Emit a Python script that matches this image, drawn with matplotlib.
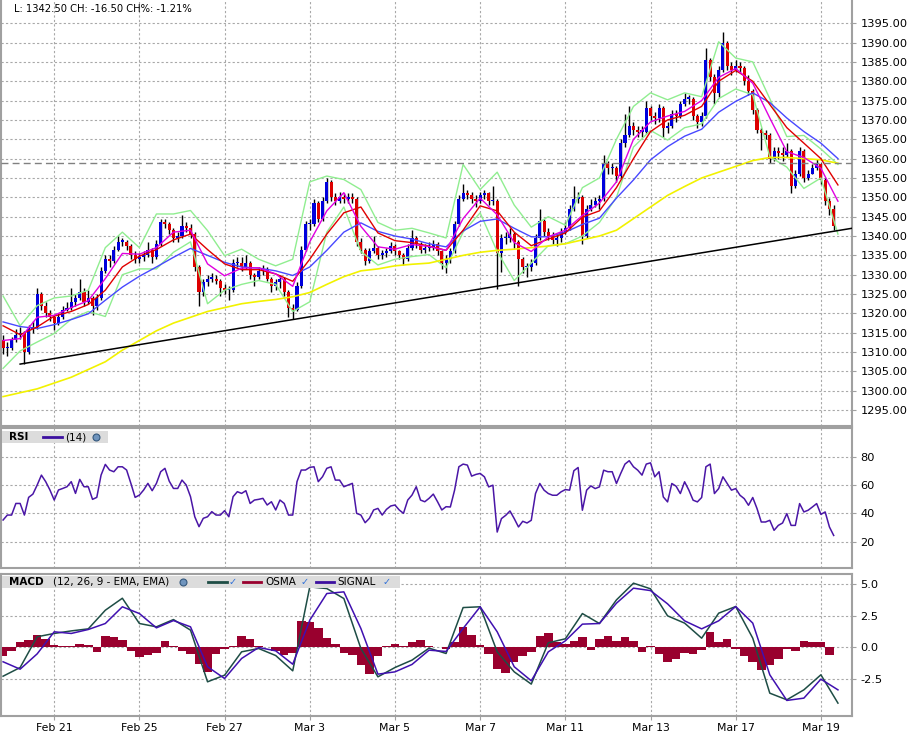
import numpy as np
import matplotlib
matplotlib.use("Agg")
import matplotlib.pyplot as plt
from matplotlib.patches import Rectangle
from matplotlib.lines import Line2D

plt.rcParams["axes.unicode_minus"] = False
plt.rcParams["font.family"] = "DejaVu Sans"

W, H = 912, 741

# ----- price bars (about 10 bars per trading day) -----
first_open = 1313.0
closes = [
    1311, 1311, 1313, 1314.5, 1315, 1310, 1316, 1316.5, 1325, 1322,
    1320, 1319, 1317.5, 1319, 1321, 1321.5, 1323, 1324, 1325.5, 1323,
    1324, 1322, 1324, 1331, 1334, 1333.5, 1336.5, 1338.5, 1338.5, 1337.5,
    1335, 1334, 1334.5, 1335, 1336.5, 1334.5, 1338, 1343.5, 1343, 1341.5,
    1339.5, 1340, 1342.5, 1342, 1340.5, 1332, 1325.5, 1328, 1329, 1329,
    1328.5, 1326.5, 1326, 1326, 1333, 1333, 1332, 1333, 1330, 1329.5,
    1331, 1331.5, 1329, 1327, 1328, 1329, 1325.5, 1321.5, 1321, 1327,
    1336.5, 1343, 1343, 1348.5, 1344.5, 1349, 1354, 1350, 1349, 1350,
    1349.5, 1350, 1349.5, 1338.5, 1336.5, 1333.5, 1336, 1337, 1335, 1335.5,
    1336, 1337.5, 1336, 1335, 1334, 1337, 1339.5, 1338, 1336.5, 1337,
    1337, 1338, 1336, 1333, 1334, 1336, 1343, 1349.5, 1351, 1350.5,
    1349.5, 1349, 1350.5, 1351, 1349, 1349, 1335.5, 1339.5, 1339.5, 1340.5,
    1338.5, 1334, 1332, 1332, 1333, 1339.5, 1344, 1341, 1340, 1339,
    1339.5, 1341, 1342, 1347, 1349.5, 1350, 1340, 1347, 1348, 1349,
    1349.5, 1359, 1357.5, 1357.5, 1355.5, 1364, 1366, 1368.5, 1367.5, 1367,
    1367, 1373, 1371, 1370.5, 1373, 1368, 1368.5, 1371.5, 1371, 1374,
    1375.5, 1375.5, 1371, 1369.5, 1371, 1385.5, 1381, 1377, 1383, 1390,
    1384, 1383, 1384, 1383.5, 1380, 1377.5, 1372.5, 1367.5, 1366.5, 1366,
    1360, 1362, 1361.5, 1361, 1362, 1353, 1356, 1362, 1355, 1356,
    1357.5, 1358.5, 1354.5, 1349, 1347, 1342.5,
]
highs = [
    1314.5, 1312.5, 1314, 1316, 1316.5, 1315.5, 1317, 1318, 1326.5, 1325.5,
    1323, 1321, 1319.5, 1320, 1322, 1323, 1326.5, 1325, 1329, 1326.5,
    1326, 1324.5, 1325, 1332, 1335, 1335, 1337.5, 1340, 1339.5, 1339,
    1338, 1336, 1335.5, 1336, 1338.5, 1337, 1339, 1344.5, 1344.5, 1343.5,
    1342, 1341, 1345.4, 1343.5, 1343, 1341, 1332.5, 1329, 1330, 1330.5,
    1330, 1329, 1327.5, 1327, 1334, 1334.5, 1334.5, 1335, 1333.5, 1330.5,
    1332, 1332.5, 1332, 1329.5, 1329, 1330, 1329.5, 1326, 1322.5, 1328,
    1337.5, 1344, 1344.5, 1349.5, 1349, 1350, 1355, 1354.5, 1351, 1351.5,
    1351, 1351, 1351, 1350, 1339.5, 1337, 1337, 1340, 1337.5, 1336.5,
    1337, 1338.5, 1338, 1336.5, 1335.5, 1338, 1341.5, 1340, 1338.5, 1338,
    1338.5, 1339, 1338.5, 1336.5, 1335, 1337, 1344, 1350.5, 1353.5, 1352,
    1351.5, 1350.5, 1351.5, 1352, 1351.5, 1353, 1349.5, 1340.5, 1341, 1342,
    1341, 1339, 1334.5, 1333, 1334, 1340.5, 1347, 1344.5, 1342, 1341,
    1340.5, 1342, 1343.5, 1348, 1353, 1351.5, 1350.5, 1348, 1349.5, 1350,
    1350.5, 1361, 1359.5, 1359, 1358, 1365, 1371.6, 1373.5, 1369.5, 1368.5,
    1368.5, 1375, 1373.5, 1372, 1374, 1373.5, 1369.5, 1372.5, 1372.5, 1375,
    1377, 1376.5, 1376, 1371.5, 1372, 1388.5, 1386, 1382, 1384, 1392.8,
    1390.5, 1385, 1385.5, 1385, 1384, 1381.5, 1378, 1373, 1368, 1367.5,
    1366.5, 1363, 1363, 1363, 1364, 1362.5, 1357, 1363, 1362.5, 1357,
    1358.5, 1360, 1359, 1355, 1349.7, 1348,
]
lows = [
    1309.5, 1309, 1310.5, 1312.5, 1313.5, 1307, 1309.5, 1315, 1316, 1321,
    1319, 1318, 1315.7, 1317, 1318.5, 1320.5, 1321, 1322, 1323.5, 1322,
    1322.5, 1319.5, 1321, 1323.5, 1330.5, 1332, 1333, 1336, 1337.5, 1336.5,
    1334, 1333, 1333, 1333.5, 1334.5, 1333, 1334, 1337.5, 1342, 1340.5,
    1338.5, 1338.5, 1339.5, 1341, 1339.5, 1331, 1322, 1324.5, 1327, 1328,
    1327.5, 1324.5, 1325, 1323.5, 1325.5, 1332, 1331, 1331.5, 1329, 1327,
    1329, 1330, 1328.5, 1325.5, 1326, 1326.5, 1324.5, 1319, 1318.5, 1320.5,
    1326.5, 1336, 1341.5, 1342.5, 1343.5, 1344, 1348.5, 1349, 1348, 1348.5,
    1348.5, 1348.5, 1348.5, 1337.5, 1335.5, 1332.5, 1333, 1335.5, 1334, 1334,
    1334.5, 1335.5, 1335, 1334, 1332.5, 1333.5, 1336.5, 1337, 1335.5, 1335.5,
    1336, 1336.5, 1335, 1331.5, 1330.5, 1333, 1335.5, 1342.5, 1349, 1349.5,
    1348.5, 1347.5, 1348.5, 1349.5, 1348, 1348, 1326.4, 1330.7, 1338, 1338.5,
    1337, 1327.2, 1330.5, 1329.4, 1331, 1332.5, 1339, 1340, 1339, 1338,
    1337.5, 1338.5, 1340.5, 1341.5, 1346.5, 1348.5, 1338, 1339.5, 1346.5, 1347.5,
    1347, 1349, 1356, 1356, 1354, 1355, 1363, 1365.5, 1366, 1365.5,
    1365.5, 1366.5, 1370, 1369, 1369.5, 1365.7, 1366.5, 1368, 1369.5, 1370.5,
    1373.5, 1374, 1370, 1368, 1368.5, 1370.5, 1380, 1374, 1376, 1382.5,
    1383, 1381.5, 1382.5, 1382.5, 1379, 1376.5, 1371.5, 1366.5, 1362.2, 1365,
    1359, 1359.5, 1360, 1359.5, 1360.5, 1351, 1352.5, 1355.5, 1354, 1354.5,
    1356, 1357, 1353.5, 1348, 1345.5, 1341.6,
]

# ----- overlay lines, read every 4 bars -----
line_bars = list(range(0, 197, 4))
yellow_ma = [
    1298.5, 1299.5, 1300.5, 1302, 1303.5, 1305.5, 1307.5, 1310.5, 1313, 1315.5,
    1317.5, 1319, 1320.5, 1321.5, 1322.5, 1323.1, 1323.6, 1324.3, 1325.4, 1327.5,
    1329.5, 1331, 1331.5, 1332.3, 1332.7, 1333, 1334, 1335, 1335.8, 1336.3,
    1336.6, 1337, 1337.4, 1338, 1339, 1340, 1341.5, 1344.5, 1347.5, 1350.5,
    1352.8, 1355, 1356.5, 1358, 1359.5, 1360.3, 1360.3, 1360, 1359.7, 1358.8,
]
blue_ma = [
    1317.8, 1316.6, 1316.1, 1317.1, 1318.4, 1319.9, 1323.4, 1326.8, 1329.6, 1332,
    1334.5, 1336.8, 1335, 1333.2, 1332, 1331.7, 1331, 1329.8, 1332, 1336.3,
    1341, 1343.4, 1341.2, 1340, 1339.2, 1338, 1337.2, 1341.3, 1343.8, 1344.4,
    1342, 1339.8, 1339.8, 1341, 1343, 1344.6, 1349.8, 1354.5, 1359.7, 1363.1,
    1365.8, 1367.6, 1372, 1374.8, 1377, 1374.5, 1370.5, 1367, 1364, 1360,
]
red_ma = [
    1316.8, 1314.5, 1316.5, 1319.3, 1320.5, 1322.3, 1326, 1332, 1334.8, 1336.5,
    1339, 1340.5, 1336.5, 1332.8, 1331.3, 1331.3, 1330.2, 1328.3, 1334, 1340.5,
    1346, 1347.5, 1340.8, 1338.8, 1338.3, 1337.4, 1336.3, 1341.5, 1347.8, 1346.5,
    1341, 1337.5, 1339.2, 1340.8, 1344.9, 1346.5, 1352.5, 1360, 1367, 1370,
    1371.2, 1373.5, 1380, 1382.8, 1380, 1374, 1368, 1364, 1360, 1353.2,
]
magenta_ma = [
    1313, 1313.5, 1319, 1319.5, 1321.5, 1323.3, 1329, 1335.5, 1335.3, 1337,
    1341, 1341.5, 1332.8, 1329.7, 1331.7, 1331.8, 1330.2, 1327, 1338.5, 1346.5,
    1351.2, 1342.5, 1337.2, 1336.6, 1337.8, 1337.3, 1336.3, 1344.5, 1349.8, 1345.5,
    1338.3, 1336, 1339.8, 1341.5, 1345.3, 1348.5, 1354, 1365, 1369.5, 1371,
    1372.2, 1375, 1381, 1383.3, 1379.5, 1370.5, 1361.8, 1360.3, 1357.5, 1349,
]
bb_upper = [
    1324.5, 1316.8, 1322, 1324, 1324.5, 1326, 1337, 1341, 1337, 1345.7,
    1345.7, 1346.6, 1341.4, 1334.9, 1336.6, 1334, 1332.3, 1334, 1354, 1355.5,
    1354.6, 1352, 1343.5, 1341.5, 1342, 1340.8, 1339.5, 1358.5, 1352, 1356.5,
    1348, 1342.3, 1345, 1342.8, 1352.5, 1355, 1365, 1373.5, 1377, 1375.2,
    1377, 1376, 1390.2, 1386, 1385, 1375.5, 1365.7, 1366, 1362.5, 1358.5,
]
bb_lower = [
    1305.8, 1310.3, 1312.6, 1314.8, 1318.5, 1320.5, 1319.2, 1330, 1331.5, 1331.5,
    1335.8, 1338.5, 1322.5, 1326, 1327.5, 1328.5, 1327.5, 1320.5, 1323, 1341,
    1347.5, 1336, 1332.5, 1334, 1334.7, 1335.2, 1331.8, 1341, 1346, 1336,
    1328.5, 1333, 1337.5, 1338, 1340, 1343.5, 1350, 1363, 1367.3, 1364.8,
    1368, 1369, 1375.5, 1378, 1376.5, 1360.5, 1357.8, 1352.3, 1355, 1340.5,
]

prev_close = 1359.0
trend_bars = [4.0, 199.3]
trend_prices = [1306.9, 1342.0]

# ----- RSI (14), one value per bar -----
rsi = [
    35.3, 38.8, 38.8, 47, 47, 38.8, 51.3, 53.6, 60, 67,
    62.4, 56.5, 49.4, 56.5, 57.6, 58.8, 62.4, 54.1, 64, 58.8,
    58.8, 49.9, 51.3, 67, 74.6, 70.6, 69.4, 72.9, 72.9, 70.6,
    61.2, 51.3, 52.9, 56.5, 61.2, 56, 61.2, 69.4, 71.8, 62.8,
    57.6, 57.6, 63.5, 60, 51.8, 37.6, 30.6, 36.5, 37.6, 41.2,
    38.8, 38.8, 41.9, 37.6, 51.8, 55.3, 54.1, 56, 47, 49.4,
    49.9, 50.6, 45.9, 48.2, 42.4, 49.4, 47, 38.8, 38.8, 62.4,
    70.6, 70.6, 72.5, 72.9, 62.4, 65.9, 71.8, 72.9, 63.5, 63.5,
    58.8, 60, 61.2, 40, 38.8, 33.4, 36.5, 42.4, 43.5, 38.8,
    42.8, 45.2, 45.9, 42.4, 40, 49.4, 52.9, 58.8, 49.4, 48.2,
    50.6, 53.6, 48.2, 42.4, 44.7, 44.5, 56.4, 72.9, 74.8, 74.1,
    66.3, 67.5, 68.2, 65.8, 58.7, 59.9, 26.8, 36.3, 38.6, 41.7,
    36.3, 30.4, 34.4, 33.2, 35.1, 54, 61.1, 56.4, 54, 52.8,
    52.8, 55.2, 56.8, 56.4, 70.1, 72.4, 42.2, 56.4, 59.4, 57.5,
    58.7, 70.5, 69.4, 69.4, 61.1, 68.2, 74.8, 77.2, 72.9, 70.5,
    67, 74.8, 75.7, 65.8, 69.4, 51.6, 48.1, 61.1, 59.2, 54,
    62.3, 56.4, 49.3, 48.1, 51.2, 72.9, 74.8, 54, 57.5, 65.8,
    61.1, 56.4, 57.5, 52.8, 50.4, 45.7, 51.2, 43.4, 33.9, 33.9,
    35.1, 28, 31.5, 33.2, 39.8, 31.5, 31.5, 46.9, 41, 42.2,
    44.5, 46.9, 39.3, 41, 30.4, 24.4,
]

# ----- MACD (12, 26, 9), read every 4 bars -----
macd = [
    -2.25, -1.57, 0.84, 1.1, 1.3, 1.46, 2.92, 3.86, 1.88, 1.62,
    2.19, 1.36, -2.69, -2.17, -0.34, -0.08, -0.63, -1.83, 4.75, 4.62,
    3.84, -0.08, -2.3, -1.57, -0.99, -0.05, -0.47, 3.13, 3.19, -0.34,
    -1.91, -2.87, 0.37, 0.68, 2.66, 1.88, 3.73, 5.04, 4.6, 2.48,
    1.91, 0.73, 2.69, 3.21, 0.73, -3.58, -4.1, -3.32, -2.14, -4.36,
]
signal = [
    -1.12, -1.7, -0.5, 1.23, 1.1, 1.41, 1.88, 3.19, 2.66, 1.54,
    2.11, 1.62, -1.51, -2.43, -0.86, 0, -0.26, -1.31, 2.14, 4.23,
    4.36, 1.49, -2.09, -1.91, -1.33, -0.21, -0.31, 1.49, 3.19, 1.23,
    -1.51, -2.61, -0.34, 0.52, 1.83, 1.88, 3.47, 4.65, 4.46, 3.42,
    2.09, 1.46, 2.09, 3.21, 1.91, -2.14, -4.15, -3.97, -2.48, -3.32,
]
osma_bars = list(range(0, 196, 2))
osma = [
    -0.7, -0.3, 0.4, 0.55, 1.0, 0.7, 0.2, 0.1, 0.12, 0.25,
    0.2, -0.35, 0.9, 0.8, 0.6, -0.25, -0.75, -0.6, -0.45, 0.5,
    0.1, -0.25, -0.5, -1.3, -1.9, -0.5, -0.1, 0.15, 0.9, 0.65,
    0.12, 0.03, -0.25, -0.6, -0.45, 2.1, 2.0, 1.5, 0.75, 0.3,
    -0.45, -0.55, -1.4, -2.1, -0.65, 0.1, 0.25, 0.1, 0.4, 0.6,
    0.15, 0.05, -0.1, 0.4, 1.6, 1.0, 0.2, -0.5, -1.7, -2.0,
    -1.1, -0.65, -0.35, 0.9, 1.15, 0.4, 0.25, 0.5, 0.8, -0.2,
    0.7, 0.9, 0.5, 0.8, 0.5, -0.35, 0.1, -0.5, -1.15, -0.9,
    -0.4, -0.5, -0.2, 1.2, 0.4, 0.65, -0.15, -0.7, -1.1, -1.8,
    -1.4, -0.9, -0.1, -0.3, 0.5, 0.4, 0.4, -0.6,
]

day_ticks = [12, 32, 52, 72, 92, 112, 132, 152, 172, 192]
day_labels = ["Feb 21", "Feb 25", "Feb 27", "Mar 3", "Mar 5",
              "Mar 7", "Mar 11", "Mar 13", "Mar 17", "Mar 19"]

# --------------------------
# FIGURE / PANELS
# --------------------------
fig = plt.figure(figsize=(W / 100, H / 100), dpi=100)
fig.patch.set_facecolor("white")

def panel(top, bottom):
    return fig.add_axes([1 / W, 1 - bottom / H, 851 / W, (bottom - top) / H])

ax_p = panel(0, 426)
ax_r = panel(428, 568)
ax_m = panel(574, 716)

grid_kw = dict(color="#a8a8a8", lw=0.8, linestyle=(0, (2, 2)))
for ax in (ax_p, ax_r, ax_m):
    ax.set_xlim(-0.49, 199.3)
    ax.set_xticks(day_ticks)
    ax.grid(True, **grid_kw)
    ax.set_axisbelow(True)
    ax.yaxis.tick_right()
    for s in ax.spines.values():
        s.set_color("#a0a0a0")
        s.set_linewidth(1.5)
    ax.tick_params(axis="y", which="both", length=3, color="#a0a0a0",
                   labelsize=8.2, pad=3, labelcolor="black")
    ax.tick_params(axis="x", length=0, labelbottom=False)

# ---- price panel ----
c = np.array(closes, dtype=float)
hi = np.array(highs, dtype=float)
lo = np.array(lows, dtype=float)
op = np.r_[first_open, c[:-1]]
idx = np.arange(len(c))
up = c >= op

ax_p.vlines(idx, lo, hi, color="black", lw=1, zorder=2)
body_lo = np.minimum(op, c)
body_h = np.maximum(np.abs(c - op), 0.35)
ax_p.bar(idx, body_h, bottom=body_lo, width=0.72,
         color=np.where(up, "#0000dd", "#dd0000"), linewidth=0, zorder=3)

ax_p.plot(line_bars, bb_upper, color="#90ee90", lw=1, zorder=4)
ax_p.plot(line_bars, bb_lower, color="#90ee90", lw=1, zorder=4)
ax_p.plot(line_bars, yellow_ma, color="#f2f200", lw=1.2, zorder=4)
ax_p.plot(line_bars, blue_ma, color="#4848ff", lw=1, zorder=4)
ax_p.plot(line_bars, red_ma, color="#e00000", lw=1, zorder=5)
ax_p.plot(line_bars, magenta_ma, color="#e000e0", lw=1, zorder=5)
ax_p.plot(trend_bars, trend_prices, color="black", lw=1.1, zorder=6)
ax_p.axhline(prev_close, color="#808080", lw=1, linestyle=(0, (5, 3)), zorder=6)

ax_p.set_ylim(1290.9, 1401.0)
ax_p.set_yticks(np.arange(1295, 1396, 5))
ax_p.set_yticklabels([f"{v:.2f}" for v in np.arange(1295, 1396, 5)])
ax_p.spines["top"].set_visible(False)

fig.text(14 / W, 1 - 9 / H, "L: 1342.50 CH: -16.50 CH%: -1.21%",
         fontsize=7.2, va="center", ha="left")

# ---- RSI panel ----
ax_r.plot(idx, rsi, color="#4a16a6", lw=1.1)
ax_r.set_ylim(1.4, 100.3)
ax_r.set_yticks([20, 40, 60, 80])

# ---- MACD panel ----
ax_m.bar(osma_bars, osma, width=2.0, color="#99002e", linewidth=0, zorder=2)
ax_m.plot(line_bars, macd, color="#1e4d45", lw=1.1, zorder=3)
ax_m.plot(line_bars, signal, color="#4010b0", lw=1.1, zorder=3)
ax_m.set_ylim(-5.37, 5.76)
ax_m.set_yticks([-2.5, 0, 2.5, 5])
ax_m.set_yticklabels(["-2.5", "0.0", "2.5", "5.0"])
ax_m.tick_params(axis="x", length=3, color="#a0a0a0", labelbottom=True,
                 labelsize=7.8, pad=2)
ax_m.set_xticklabels(day_labels)

# ---- header boxes ----
def fx(x):
    return x / W

def fy(y):
    return 1 - y / H

def box(x0, y0, x1, y1):
    fig.add_artist(Rectangle((fx(x0), fy(y1)), (x1 - x0) / W, (y1 - y0) / H,
                             transform=fig.transFigure, fc="#dcdcdc",
                             ec="none", zorder=5))

def swatch(x0, x1, y, color):
    fig.add_artist(Line2D([fx(x0), fx(x1)], [fy(y), fy(y)], color=color, lw=2,
                          transform=fig.transFigure, zorder=6))

def globe(x, y):
    fig.add_artist(Line2D([fx(x)], [fy(y)], marker="o", ms=5, color="#6f94bd",
                          mec="#35587d", mew=0.8, transform=fig.transFigure,
                          zorder=6))

def check(x, y):
    fig.text(fx(x), fy(y), "\u2713", color="#2d6fd8", fontsize=7,
             weight="bold", ha="center", va="center", zorder=6)

hdr = dict(fontsize=7.5, va="center", ha="left", zorder=6)

box(2, 431, 108, 443)
fig.text(fx(9), fy(437), "RSI", weight="bold", **hdr)
swatch(43, 62, 437, "#3c10a0")
fig.text(fx(65), fy(437), "(14)", **hdr)
globe(96, 437)

box(2, 576, 400, 588)
fig.text(fx(9), fy(582), "MACD", weight="bold", **hdr)
fig.text(fx(53), fy(582), "(12, 26, 9 - EMA, EMA)", **hdr)
globe(183, 582)
swatch(208, 227, 582, "#1e4d45")
check(233, 582)
swatch(243, 261, 582, "#99002e")
fig.text(fx(265), fy(582), "OSMA", **hdr)
check(305, 582)
swatch(316, 334, 582, "#3c10a0")
fig.text(fx(337), fy(582), "SIGNAL", **hdr)
check(387, 582)

fig.savefig("out.png", dpi=100)
